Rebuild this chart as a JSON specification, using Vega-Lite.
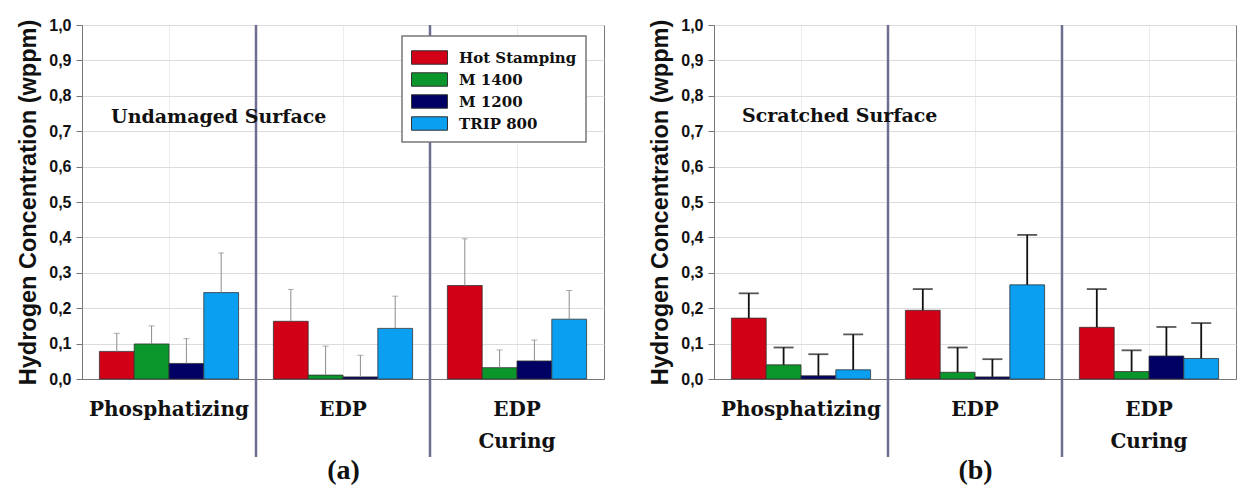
{
  "$schema": "https://vega.github.io/schema/vega-lite/v6.json",
  "padding": {"left": 16, "top": 16, "right": 0, "bottom": 0},
  "spacing": 43,
  "background": "white",
  "config": {
    "view": {"stroke": "#777", "strokeWidth": 1},
    "axisY": {
      "values": [0, 0.1, 0.2, 0.3, 0.4, 0.5, 0.6, 0.7, 0.8, 0.9, 1],
      "labelExpr": "replace(format(datum.value, '.1f'), '.', ',')",
      "labelFont": "Liberation Sans", "labelFontWeight": "bold", "labelFontSize": 16, "labelColor": "#111",
      "labelPadding": 5, "tickSize": 6, "tickColor": "#777", "domainColor": "#777",
      "gridColor": "#dcdcdc",
      "titleFont": "Liberation Sans", "titleFontSize": 23.5, "titleFontWeight": "bold", "titleColor": "#111", "titlePadding": 8
    },
    "axisX": {
      "labelAngle": 0, "ticks": false, "labelPadding": 20,
      "labelFont": "DejaVu Serif", "labelFontWeight": "bold", "labelFontSize": 20, "labelColor": "#111",
      "labelExpr": "datum.label == 'EDP Curing' ? ['EDP', 'Curing'] : datum.label",
      "labelLineHeight": 32,
      "grid": true, "gridColor": "#ececec", "domainColor": "#777",
      "titleFont": "Liberation Serif", "titleFontSize": 28, "titleFontWeight": "bold", "titlePadding": 5, "titleColor": "#111"
    },
    "legend": {
      "orient": "none", "padding": 9, "strokeColor": "#777", "strokeWidth": 1.5, "fillColor": "white",
      "symbolType": "M-1,-0.56H2V0.56H-1Z", "symbolSize": 576, "symbolStrokeColor": "#333", "symbolStrokeWidth": 1, "symbolOpacity": 1,
      "labelFont": "DejaVu Serif", "labelFontWeight": "bold", "labelFontSize": 15, "labelColor": "#111", "labelOffset": 23, "rowPadding": 0
    }
  },
  "datasets": {
    "undamaged": [
      {"process": "Phosphatizing", "steel": "Hot Stamping", "h": 0.078, "upper": 0.129},
      {"process": "Phosphatizing", "steel": "M 1400", "h": 0.099, "upper": 0.150},
      {"process": "Phosphatizing", "steel": "M 1200", "h": 0.044, "upper": 0.114},
      {"process": "Phosphatizing", "steel": "TRIP 800", "h": 0.244, "upper": 0.356},
      {"process": "EDP", "steel": "Hot Stamping", "h": 0.163, "upper": 0.253},
      {"process": "EDP", "steel": "M 1400", "h": 0.011, "upper": 0.093},
      {"process": "EDP", "steel": "M 1200", "h": 0.006, "upper": 0.067},
      {"process": "EDP", "steel": "TRIP 800", "h": 0.143, "upper": 0.234},
      {"process": "EDP Curing", "steel": "Hot Stamping", "h": 0.264, "upper": 0.396},
      {"process": "EDP Curing", "steel": "M 1400", "h": 0.032, "upper": 0.082},
      {"process": "EDP Curing", "steel": "M 1200", "h": 0.051, "upper": 0.110},
      {"process": "EDP Curing", "steel": "TRIP 800", "h": 0.169, "upper": 0.250}
    ],
    "scratched": [
      {"process": "Phosphatizing", "steel": "Hot Stamping", "h": 0.172, "upper": 0.242},
      {"process": "Phosphatizing", "steel": "M 1400", "h": 0.040, "upper": 0.089},
      {"process": "Phosphatizing", "steel": "M 1200", "h": 0.009, "upper": 0.070},
      {"process": "Phosphatizing", "steel": "TRIP 800", "h": 0.026, "upper": 0.126},
      {"process": "EDP", "steel": "Hot Stamping", "h": 0.194, "upper": 0.254},
      {"process": "EDP", "steel": "M 1400", "h": 0.019, "upper": 0.089},
      {"process": "EDP", "steel": "M 1200", "h": 0.006, "upper": 0.056},
      {"process": "EDP", "steel": "TRIP 800", "h": 0.266, "upper": 0.407},
      {"process": "EDP Curing", "steel": "Hot Stamping", "h": 0.146, "upper": 0.254},
      {"process": "EDP Curing", "steel": "M 1400", "h": 0.021, "upper": 0.081},
      {"process": "EDP Curing", "steel": "M 1200", "h": 0.065, "upper": 0.147},
      {"process": "EDP Curing", "steel": "TRIP 800", "h": 0.058, "upper": 0.158}
    ],
    "separators": [{"process": "EDP"}, {"process": "EDP Curing"}]
  },
  "hconcat": [
    {
      "width": 522, "height": 354,
      "data": {"name": "undamaged"},
      "layer": [
        {
          "mark": {"type": "bar", "stroke": "#333", "strokeWidth": 0.8},
          "encoding": {
            "x": {"field": "process", "type": "nominal", "scale": {"domain": ["Phosphatizing", "EDP", "EDP Curing"], "paddingInner": 0, "paddingOuter": 0}, "axis": {"title": "(a)"}},
            "xOffset": {"field": "steel", "type": "nominal", "scale": {"domain": ["Hot Stamping", "M 1400", "M 1200", "TRIP 800"], "paddingOuter": 0.5, "paddingInner": 0}},
            "y": {"field": "h", "type": "quantitative", "scale": {"domain": [0, 1], "nice": false}, "axis": {"title": "Hydrogen Concentration (wppm)"}},
            "color": {"field": "steel", "type": "nominal", "scale": {"domain": ["Hot Stamping", "M 1400", "M 1200", "TRIP 800"], "range": ["#d20016", "#0a962a", "#000064", "#0a9ff0"]}, "legend": {"title": null, "legendX": 320, "legendY": 11}}
          }
        },
        {
          "mark": {"type": "rule", "color": "#8c8c8c", "strokeWidth": 1},
          "encoding": {
            "x": {"field": "process", "type": "nominal"},
            "xOffset": {"field": "steel", "type": "nominal"},
            "y": {"field": "h", "type": "quantitative"},
            "y2": {"field": "upper"}
          }
        },
        {
          "mark": {"type": "tick", "color": "#8c8c8c", "thickness": 1, "size": 6},
          "encoding": {
            "x": {"field": "process", "type": "nominal"},
            "xOffset": {"field": "steel", "type": "nominal"},
            "y": {"field": "upper", "type": "quantitative"}
          }
        },
        {
          "data": {"name": "separators"},
          "mark": {"type": "rule", "color": "#6e6e90", "strokeWidth": 2.5, "clip": false},
          "encoding": {
            "x": {"field": "process", "type": "nominal", "bandPosition": 0},
            "y": {"datum": 1},
            "y2": {"datum": -0.22}
          }
        },
        {
          "data": {"values": [{}]},
          "mark": {"type": "text", "text": "Undamaged Surface", "font": "DejaVu Serif", "fontWeight": "bold", "fontSize": 19, "align": "left", "baseline": "middle", "color": "#111"},
          "encoding": {
            "x": {"datum": "Phosphatizing", "type": "nominal", "bandPosition": 0.167},
            "y": {"datum": 0.74}
          }
        }
      ]
    },
    {
      "width": 522, "height": 354,
      "data": {"name": "scratched"},
      "layer": [
        {
          "mark": {"type": "bar", "stroke": "#333", "strokeWidth": 0.8},
          "encoding": {
            "x": {"field": "process", "type": "nominal", "scale": {"domain": ["Phosphatizing", "EDP", "EDP Curing"], "paddingInner": 0, "paddingOuter": 0}, "axis": {"title": "(b)"}},
            "xOffset": {"field": "steel", "type": "nominal", "scale": {"domain": ["Hot Stamping", "M 1400", "M 1200", "TRIP 800"], "paddingOuter": 0.5, "paddingInner": 0}},
            "y": {"field": "h", "type": "quantitative", "scale": {"domain": [0, 1], "nice": false}, "axis": {"title": "Hydrogen Concentration (wppm)"}},
            "color": {"field": "steel", "type": "nominal", "scale": {"domain": ["Hot Stamping", "M 1400", "M 1200", "TRIP 800"], "range": ["#d20016", "#0a962a", "#000064", "#0a9ff0"]}, "legend": {"title": null, "legendX": 322, "legendY": 16}}
          }
        },
        {
          "mark": {"type": "rule", "color": "#111", "strokeWidth": 1.8},
          "encoding": {
            "x": {"field": "process", "type": "nominal"},
            "xOffset": {"field": "steel", "type": "nominal"},
            "y": {"field": "h", "type": "quantitative"},
            "y2": {"field": "upper"}
          }
        },
        {
          "mark": {"type": "tick", "color": "#111", "thickness": 1.8, "size": 20},
          "encoding": {
            "x": {"field": "process", "type": "nominal"},
            "xOffset": {"field": "steel", "type": "nominal"},
            "y": {"field": "upper", "type": "quantitative"}
          }
        },
        {
          "data": {"name": "separators"},
          "mark": {"type": "rule", "color": "#6e6e90", "strokeWidth": 2.5, "clip": false},
          "encoding": {
            "x": {"field": "process", "type": "nominal", "bandPosition": 0},
            "y": {"datum": 1},
            "y2": {"datum": -0.22}
          }
        },
        {
          "data": {"values": [{}]},
          "mark": {"type": "text", "text": "Scratched Surface", "font": "DejaVu Serif", "fontWeight": "bold", "fontSize": 19, "align": "left", "baseline": "middle", "color": "#111"},
          "encoding": {
            "x": {"datum": "Phosphatizing", "type": "nominal", "bandPosition": 0.161},
            "y": {"datum": 0.743}
          }
        }
      ]
    }
  ]
}
